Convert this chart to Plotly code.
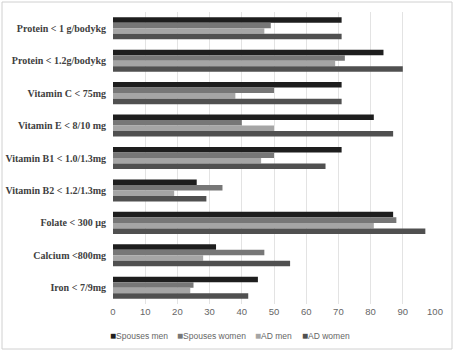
import plotly.graph_objects as go

categories = ["Protein < 1 g/bodykg", "Protein < 1.2g/bodykg", "Vitamin C < 75mg",
              "Vitamin E < 8/10 mg", "Vitamin B1 < 1.0/1.3mg", "Vitamin B2 < 1.2/1.3mg",
              "Folate < 300 µg", "Calcium <800mg", "Iron < 7/9mg"]
spouses_men = [71, 84, 71, 81, 71, 26, 87, 32, 45]
spouses_women = [49, 72, 50, 40, 50, 34, 88, 47, 25]
ad_men = [47, 69, 38, 50, 46, 19, 81, 28, 24]
ad_women = [71, 90, 71, 87, 66, 29, 97, 55, 42]
series_names = ["Spouses men", "Spouses women", "AD men", "AD women"]
colors = ["#1e1e1e", "#777777", "#a5a5a5", "#505050"]
x_ticks = list(range(0, 101, 10))

fig = go.Figure()
for name, vals, c in zip(series_names, [spouses_men, spouses_women, ad_men, ad_women], colors):
    fig.add_trace(go.Bar(y=categories, x=vals, name=name, orientation="h",
                         marker=dict(color=c, line=dict(width=0))))

L, R, T, B = 113, 20, 12, 48
W, H = 455, 352
pw, ph = W - L - R, H - T - B

fig.update_layout(
    width=W, height=H, barmode="group", bargap=0.32, bargroupgap=0,
    margin=dict(l=L, r=R, t=T, b=B, pad=0, autoexpand=False),
    paper_bgcolor="white", plot_bgcolor="white", showlegend=False,
    xaxis=dict(range=[0, 100], tickvals=x_ticks, showgrid=True, gridcolor="#e3e3e3",
               gridwidth=1, zeroline=False, showline=False, ticks="", automargin=False,
               tickfont=dict(family="Liberation Sans", size=9.5, color="#666666"),
               fixedrange=True),
    yaxis=dict(autorange="reversed", showgrid=False, showline=False, ticks="",
               ticklabelstandoff=6, automargin=False,
               tickfont=dict(family="Liberation Serif", size=10, color="#404040", weight="bold"),
               fixedrange=True),
)

# outer border
fig.add_shape(type="rect", xref="paper", yref="paper",
              x0=(2 - L) / pw, x1=(452 - L) / pw,
              y0=(T + ph - 349) / ph, y1=(T + ph - 2) / ph,
              line=dict(color="#d0d0d0", width=1), fillcolor="rgba(0,0,0,0)")

# legend as annotations
leg_x = [108, 175, 253, 300]
for name, c, px in zip(series_names, colors, leg_x):
    fig.add_annotation(xref="paper", yref="paper", x=(px - L) / pw, y=(T + ph - 335) / ph,
                       xanchor="left", yanchor="middle", showarrow=False,
                       text=f"<span style='color:{c};font-size:10px'>■</span>{name}",
                       font=dict(family="Liberation Sans", size=8.5, color="#666666"))

fig.write_html("out.html")
